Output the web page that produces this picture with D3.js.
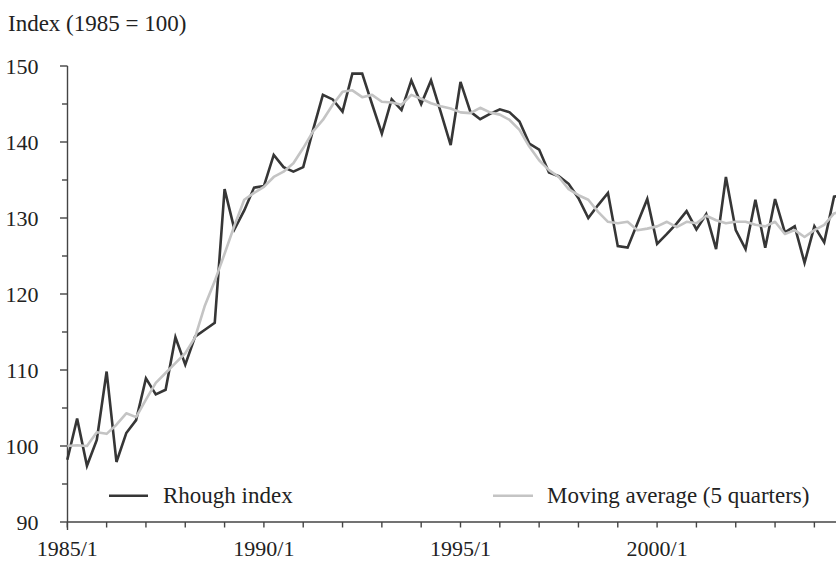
<!DOCTYPE html>
<html>
<head>
<meta charset="utf-8">
<script src="https://cdn.jsdelivr.net/npm/d3@7"></script>
<style>
  html, body { margin: 0; padding: 0; background: #fff; }
  svg { display: block; }
  text { font-family: "Liberation Serif", "Times New Roman", serif; fill: #222; }
</style>
</head>
<body>
<svg id="chart" width="836" height="561"></svg>
<script>
// ---- data ----
const startYear = 1985;
const roughIndex = [
  98.2, 103.6, 97.4, 100.8, 109.8, 97.9, 101.7, 103.4,
  108.9, 106.8, 107.4, 114.3, 110.7, 114.4, 115.3, 116.2,
  133.8, 128.5, 131.0, 134.0, 134.2, 138.3, 136.7, 136.1,
  136.7, 141.6, 146.2, 145.6, 144.0, 149.0, 149.0, 145.0,
  141.1, 145.6, 144.2, 148.1, 145.0, 148.1, 143.9, 139.6,
  147.9, 144.0, 143.0, 143.7, 144.3, 143.9, 142.7, 139.8,
  139.0, 136.0, 135.5, 134.5, 132.6, 130.0, 131.7, 133.3,
  126.3, 126.1, 129.3, 132.5, 126.6, 127.9, 129.3, 130.9,
  128.5, 130.5, 125.9, 135.4, 128.4, 125.9, 132.4, 126.1,
  132.5, 128.1, 128.9, 124.1, 128.9, 126.8, 132.8, 133.0
];
const movingAverage = [
  100.0, 100.1, 100.0, 101.8, 101.6, 102.8, 104.3, 103.8,
  106.1, 108.3, 109.6, 110.9, 112.2, 114.3, 118.5, 121.7,
  125.3, 129.0, 132.4, 133.3, 134.1, 135.4, 136.1, 137.2,
  139.2, 141.4, 142.9, 144.9, 146.6, 146.8, 145.9, 146.2,
  145.3, 145.2, 144.9, 146.2, 145.7, 145.1, 144.7, 144.4,
  143.9, 143.8, 144.5, 143.9, 143.6, 142.9, 141.6, 139.4,
  137.6, 136.3, 135.4, 133.8, 133.0, 132.4, 130.8, 129.5,
  129.3, 129.5, 128.4, 128.6, 128.9, 129.5, 128.8, 129.5,
  129.3, 130.3, 129.7, 129.3, 129.5, 129.5, 129.1, 128.9,
  129.5, 127.9, 128.4, 127.5, 128.4, 129.1, 130.6, 131.0
];
const quarters = roughIndex.map((_, i) => `${startYear + Math.floor(i / 4)}/${(i % 4) + 1}`);
const xTickLabels = ["1985/1", "1990/1", "1995/1", "2000/1"];
const yTickLabels = [90, 100, 110, 120, 130, 140, 150];
const yMinorTicks = [95, 105, 115, 125, 135, 145];
const seriesNames = ["Rhough index", "Moving average (5 quarters)"];
const yTitle = "Index (1985 = 100)";

// ---- layout ----
const svg = d3.select("#chart");
const numSize = 22;
const textSize = 23;
const x = d3.scaleLinear().domain([0, quarters.length - 1]).range([67.3, 67.3 + 9.83 * (quarters.length - 1)]);
const y = d3.scaleLinear().domain([90, 150]).range([522, 66]);
const axisColor = "#444";

// y axis
const yAxis = svg.append("g").attr("transform", "translate(67.5,0)");
yAxis.append("line").attr("x1", 0).attr("x2", 0).attr("y1", y(150)).attr("y2", y(90) + 8)
  .attr("stroke", axisColor).attr("stroke-width", 1.4);
yAxis.selectAll("line.major").data(yTickLabels).join("line").attr("class", "major")
  .attr("x1", -7.5).attr("x2", 0).attr("y1", d => y(d)).attr("y2", d => y(d))
  .attr("stroke", axisColor).attr("stroke-width", 1.4);
yAxis.selectAll("line.minor").data(yMinorTicks).join("line").attr("class", "minor")
  .attr("x1", -5.5).attr("x2", 0).attr("y1", d => y(d)).attr("y2", d => y(d))
  .attr("stroke", axisColor).attr("stroke-width", 1.4);
yAxis.selectAll("text").data(yTickLabels).join("text")
  .attr("x", -29).attr("y", d => y(d)).attr("dy", "0.35em")
  .attr("text-anchor", "end").attr("font-size", numSize).text(d => d);

// x axis
const xAxis = svg.append("g").attr("transform", `translate(0,${y(90)})`);
xAxis.append("line").attr("x1", x(0)).attr("x2", 836).attr("y1", 0).attr("y2", 0)
  .attr("stroke", axisColor).attr("stroke-width", 1.4);
const yearTicks = d3.range(0, quarters.length, 4);
xAxis.selectAll("line.tick").data(yearTicks).join("line").attr("class", "tick")
  .attr("x1", d => x(d)).attr("x2", d => x(d)).attr("y1", 0).attr("y2", 5.5)
  .attr("stroke", axisColor).attr("stroke-width", 1.4);
xAxis.selectAll("text").data(xTickLabels).join("text")
  .attr("x", d => x(quarters.indexOf(d))).attr("y", 34)
  .attr("text-anchor", "middle").attr("font-size", numSize).text(d => d);

// title
svg.append("text").attr("x", 8).attr("y", 31).attr("font-size", textSize).text(yTitle);

// lines
const line = (vals) => d3.line().x((d, i) => x(i)).y(d => y(d))(vals);
svg.append("path").attr("d", line(roughIndex)).attr("fill", "none")
  .attr("stroke", "#363636").attr("stroke-width", 2.6).attr("stroke-linejoin", "miter");
svg.append("path").attr("d", line(movingAverage)).attr("fill", "none")
  .attr("stroke", "#c4c4c4").attr("stroke-width", 2.6).attr("stroke-linejoin", "round");

// legend
const legend = [
  { name: seriesNames[0], color: "#363636", x1: 109, x2: 148, tx: 163 },
  { name: seriesNames[1], color: "#c4c4c4", x1: 493, x2: 533, tx: 547 }
];
legend.forEach(l => {
  svg.append("line").attr("x1", l.x1).attr("x2", l.x2).attr("y1", 495.7).attr("y2", 495.7)
    .attr("stroke", l.color).attr("stroke-width", 2.6);
  svg.append("text").attr("x", l.tx).attr("y", 502.5).attr("font-size", textSize).text(l.name);
});
</script>
</body>
</html>
